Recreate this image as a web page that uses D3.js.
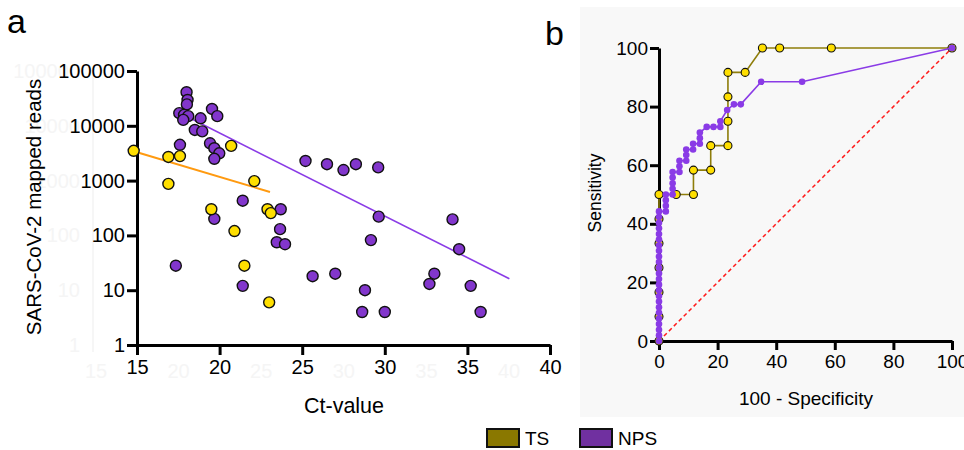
<!DOCTYPE html>
<html>
<head>
<meta charset="utf-8">
<script src="https://cdn.jsdelivr.net/npm/d3@7"></script>
<style>
  body { margin: 0; background: #fff; }
  svg { font-family: "Liberation Sans", Arial, sans-serif; }
</style>
</head>
<body>
<div id="chart"></div>
<script>
// panel a: Ct-value vs mapped reads
var tsCt    = [14.8, 16.9, 17.6, 20.7, 16.9, 22.1, 19.5, 22.9, 23.1, 20.9, 21.5, 23.0];
var tsReads = [3500, 2700, 2800, 4300, 870, 980, 300, 300, 255, 120, 28, 6];

var npsCt    = [18.0, 18.06, 18.02, 17.56, 17.85, 18.1, 17.8, 18.85, 19.54, 19.86, 18.5, 18.95,
                17.6, 19.42, 19.68, 19.98, 19.68, 25.2, 26.5, 27.5, 28.25, 29.6,
                29.63, 34.1, 29.16, 34.5, 25.63, 27.0, 33.0, 32.7, 35.2, 28.8, 28.63, 30.0, 35.8,
                21.4, 19.68, 23.7, 23.66, 23.46, 23.96, 17.35, 21.4];
var npsReads = [41000, 29600, 24600, 17000, 15800, 15000, 12800, 13700, 20300, 15000, 8400, 7900,
                4500, 4800, 3900, 3150, 2500, 2280, 1990, 1560, 1990, 1740,
                220, 196, 82, 56, 18, 20, 20, 13, 12, 10, 4, 4, 4,
                430, 200, 300, 130, 75, 69, 28, 12];

var tsFitCt = [15, 23.05];
var tsFitReads = [3300, 620];
var npsFitCt = [17.36, 37.54];
var npsFitReads = [18600, 16.2];

var ctTicks = [15, 20, 25, 30, 35, 40];
var readTicks = [1, 10, 100, 1000, 10000, 100000];

// panel b: ROC curves
var tsSpec = [0, 0, 0, 0, 0, 0, 0, 5.88, 11.76, 11.76, 17.65, 17.65, 23.53, 23.53, 23.53, 23.53,
              29.41, 35.29, 41.18, 58.82, 100];
var tsSens = [0, 8.33, 16.67, 25, 33.33, 41.67, 50, 50, 50, 58.33, 58.33, 66.67, 66.67, 75, 83.33, 91.67,
              91.67, 100, 100, 100, 100];

var npsSpec = [0, 0, 0, 0, 0, 0, 0, 0, 0, 0, 0, 0, 0, 0, 0, 0, 0, 0, 0, 0, 0, 0, 0, 0,
               2.33, 2.33, 2.33, 2.33, 4.65, 4.65, 4.65, 4.65, 4.65, 6.98, 6.98, 6.98,
               9.30, 9.30, 9.30, 11.63, 11.63, 13.95, 13.95, 13.95,
               16.28, 18.60, 20.93, 20.93, 23.26, 25.58, 27.91, 34.88, 48.84, 100];
var npsSens = [0, 1.92, 3.85, 5.77, 7.69, 9.62, 11.54, 13.46, 15.38, 17.31, 19.23, 21.15, 23.08,
               25.0, 26.92, 28.85, 30.77, 32.69, 34.62, 36.54, 38.46, 40.38, 42.31, 44.23,
               44.23, 46.15, 48.08, 50.0, 50.0, 51.92, 53.85, 55.77, 57.69, 57.69, 59.62, 61.54,
               61.54, 63.46, 65.38, 65.38, 67.31, 67.31, 69.23, 71.15,
               73.08, 73.08, 73.08, 75.0, 78.85, 80.77, 80.77, 88.46, 88.46, 100];

var rocTicks = [0, 20, 40, 60, 80, 100];
var legendNames = ["TS", "NPS"];
var legendColors = ["#8a7800", "#7030a0"];

var yellow = "#ffdf00";
var purple = "#8236cc";

var svg = d3.select("#chart").append("svg")
    .attr("width", 964)
    .attr("height", 450);

// ---------- panel a ----------
var xA = d3.scaleLinear().domain([15, 40]).range([137, 550]);
var yA = d3.scaleLog().domain([1, 100000]).range([345, 71]);

// faint ghost axis behind
var ghost = svg.append("g").attr("fill", "#f5f5f5").attr("font-size", 20);
ghost.append("line").attr("x1", 93).attr("x2", 93).attr("y1", 71).attr("y2", 352)
    .attr("stroke", "#f6f6f6").attr("stroke-width", 2);
ghost.selectAll("text.gy").data(readTicks).enter().append("text")
    .attr("x", 80).attr("y", function(d) { return yA(d) + 7; })
    .attr("text-anchor", "end").text(function(d) { return d; });
ghost.selectAll("text.gx").data(ctTicks).enter().append("text")
    .attr("x", function(d) { return xA(d) - 41; }).attr("y", 378)
    .attr("text-anchor", "middle").text(function(d) { return d; });

var axA = svg.append("g").attr("class", "axA");
axA.append("g")
    .attr("transform", "translate(137,0)")
    .call(d3.axisLeft(yA).tickValues(readTicks).tickFormat(d3.format("d")).tickSize(10).tickSizeOuter(0).tickPadding(2));
axA.append("g")
    .attr("transform", "translate(0,345)")
    .call(d3.axisBottom(xA).tickValues(ctTicks).tickSize(10).tickSizeOuter(0).tickPadding(5));

svg.append("text").attr("x", 7).attr("y", 33).attr("font-size", 34).text("a");
svg.append("text")
    .attr("transform", "translate(41,207) rotate(-90)")
    .attr("text-anchor", "middle").attr("font-size", 20.5)
    .text("SARS-CoV-2 mapped reads");
svg.append("text").attr("x", 344).attr("y", 413)
    .attr("text-anchor", "middle").attr("font-size", 21.5).text("Ct-value");

var lineA = d3.line()
    .x(function(d) { return xA(d[0]); })
    .y(function(d) { return yA(d[1]); });

svg.append("path").datum(d3.zip(tsFitCt, tsFitReads))
    .attr("d", lineA).attr("fill", "none").attr("stroke", "#ff9a10").attr("stroke-width", 2);
svg.append("path").datum(d3.zip(npsFitCt, npsFitReads))
    .attr("d", lineA).attr("fill", "none").attr("stroke", "#8a3be6").attr("stroke-width", 1.6);

svg.append("g").selectAll("circle").data(d3.zip(npsCt, npsReads)).enter().append("circle")
    .attr("cx", function(d) { return xA(d[0]); })
    .attr("cy", function(d) { return yA(d[1]); })
    .attr("r", 5.5).attr("fill", purple).attr("stroke", "#111").attr("stroke-width", 1.4);
svg.append("g").selectAll("circle").data(d3.zip(tsCt, tsReads)).enter().append("circle")
    .attr("cx", function(d) { return xA(d[0]); })
    .attr("cy", function(d) { return yA(d[1]); })
    .attr("r", 5.5).attr("fill", yellow).attr("stroke", "#111").attr("stroke-width", 1.4);

// ---------- panel b ----------
svg.append("rect").attr("x", 580).attr("y", 7).attr("width", 384).attr("height", 410)
    .attr("fill", "#f8f8f8");

var xB = d3.scaleLinear().domain([0, 100]).range([659, 952]);
var yB = d3.scaleLinear().domain([0, 100]).range([341, 48]);

var axB = svg.append("g").attr("class", "axB");
axB.append("g")
    .attr("transform", "translate(659,0)")
    .call(d3.axisLeft(yB).tickValues(rocTicks).tickSize(9).tickSizeOuter(0).tickPadding(2));
axB.append("g")
    .attr("transform", "translate(0,341)")
    .call(d3.axisBottom(xB).tickValues(rocTicks).tickSize(9).tickSizeOuter(0).tickPadding(5));

svg.selectAll(".domain").attr("stroke", "#000").attr("stroke-width", 3);
svg.selectAll(".tick line").attr("stroke", "#000").attr("stroke-width", 3);
svg.selectAll(".tick text").attr("fill", "#000")
    .attr("font-family", "Liberation Sans, Arial, sans-serif");
svg.selectAll(".axA .tick text").attr("font-size", 20);
svg.selectAll(".axB .tick text").attr("font-size", 19);

svg.append("text").attr("x", 545).attr("y", 45).attr("font-size", 34).text("b");
svg.append("text")
    .attr("transform", "translate(601,193) rotate(-90)")
    .attr("text-anchor", "middle").attr("font-size", 17.5).text("Sensitivity");
svg.append("text").attr("x", 806).attr("y", 405)
    .attr("text-anchor", "middle").attr("font-size", 19).text("100 - Specificity");

var lineB = d3.line()
    .x(function(d) { return xB(d[0]); })
    .y(function(d) { return yB(d[1]); });

svg.append("path").datum([[0, 0], [100, 100]])
    .attr("d", lineB).attr("fill", "none").attr("stroke", "#ff1a1a")
    .attr("stroke-width", 1.5).attr("stroke-dasharray", "4,3");

var tsRoc = d3.zip(tsSpec, tsSens);
svg.append("path").datum(tsRoc)
    .attr("d", lineB).attr("fill", "none").attr("stroke", "#8e7d0a").attr("stroke-width", 1.6);
svg.append("g").selectAll("circle").data(tsRoc).enter().append("circle")
    .attr("cx", function(d) { return xB(d[0]); })
    .attr("cy", function(d) { return yB(d[1]); })
    .attr("r", 4).attr("fill", yellow).attr("stroke", "#111").attr("stroke-width", 1.1);

var npsRoc = d3.zip(npsSpec, npsSens);
svg.append("path").datum(npsRoc)
    .attr("d", lineB).attr("fill", "none").attr("stroke", "#8a3be6").attr("stroke-width", 1.6);
svg.append("g").selectAll("circle").data(npsRoc).enter().append("circle")
    .attr("cx", function(d) { return xB(d[0]); })
    .attr("cy", function(d) { return yB(d[1]); })
    .attr("r", 3.3).attr("fill", "#8a3be6");

// ---------- legend ----------
var leg = svg.append("g").selectAll("g").data(legendNames).enter().append("g")
    .attr("transform", function(d, i) { return "translate(" + (487 + i * 93) + ",429)"; });
leg.append("rect").attr("width", 32).attr("height", 18)
    .attr("fill", function(d, i) { return legendColors[i]; })
    .attr("stroke", "#111").attr("stroke-width", 2);
leg.append("text").attr("x", 38).attr("y", 16).attr("font-size", 19)
    .text(function(d) { return d; });
</script>
</body>
</html>
